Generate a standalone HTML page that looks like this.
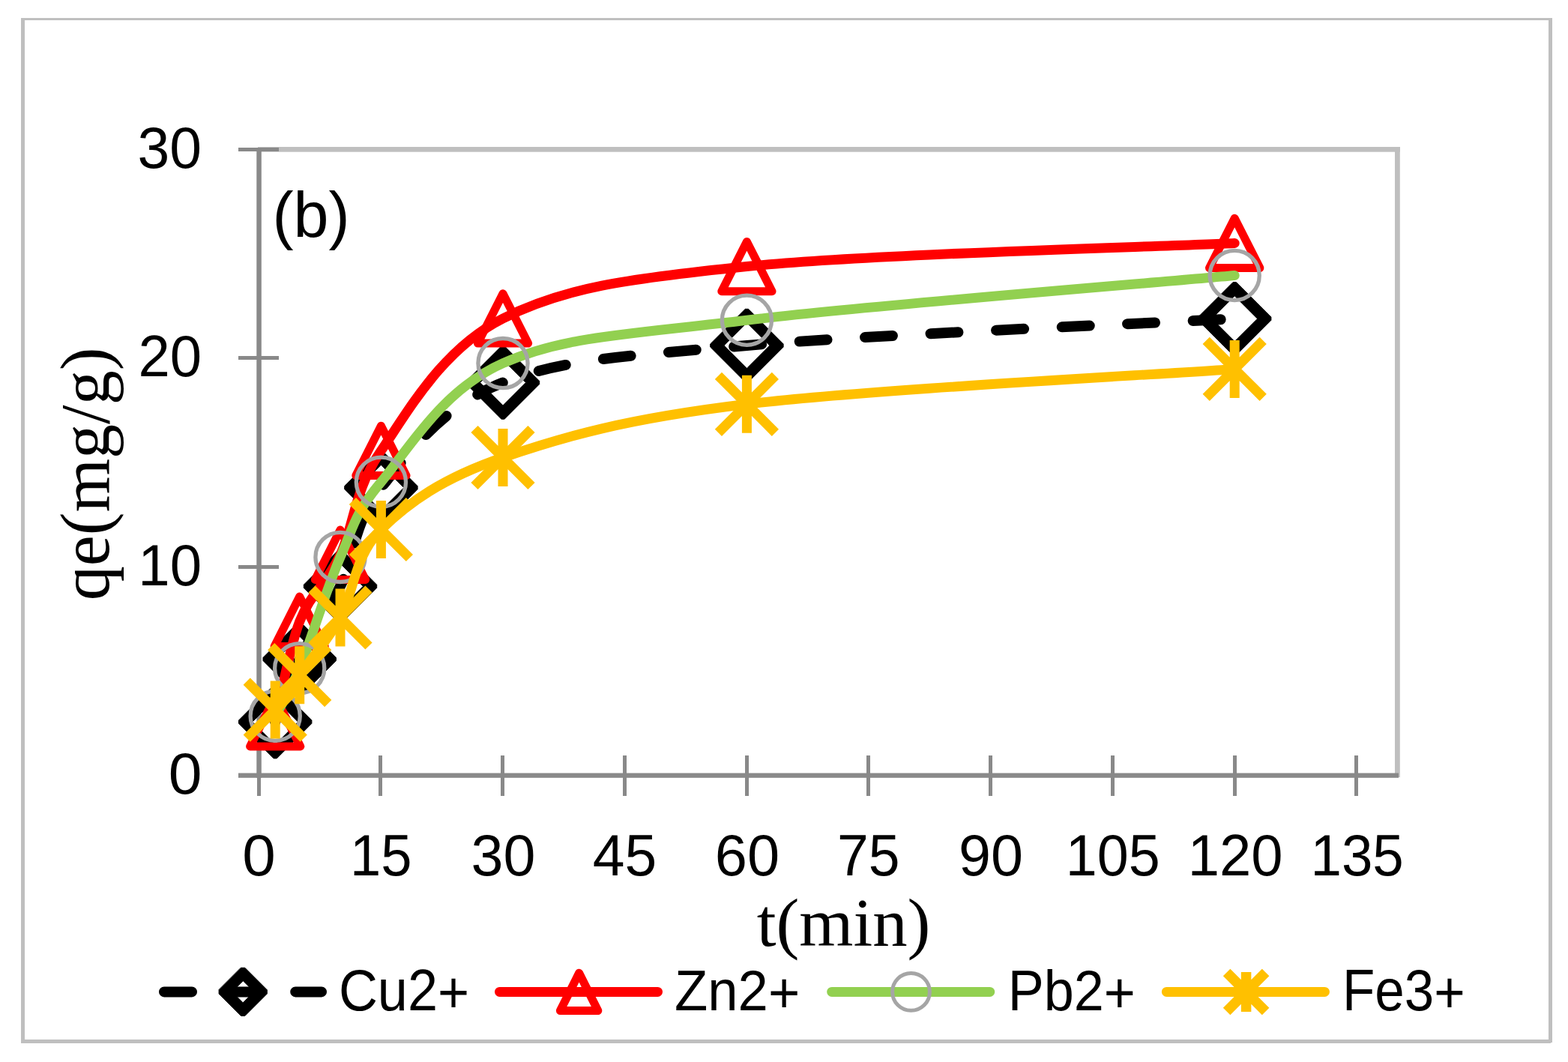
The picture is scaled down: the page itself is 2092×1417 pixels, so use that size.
<!DOCTYPE html>
<html lang="en"><head><meta charset="utf-8"><title>Chart (b)</title>
<style>html,body{margin:0;padding:0;background:#fff}svg{display:block}</style>
</head><body>
<svg width="2092" height="1417" viewBox="0 0 2092 1417">
<rect width="2092" height="1417" fill="#fff"/>
<g fill="#BFBFBF">
<rect x="28" y="24" width="2043" height="3"/>
<rect x="28" y="24" width="5" height="1368"/>
<rect x="2066" y="24" width="5" height="1367"/>
<rect x="28" y="1387" width="2041" height="5"/>
<rect x="344" y="196" width="1524" height="6.7"/>
<rect x="1861" y="196" width="6.8" height="841"/>
</g>
<g fill="#898989">
<rect x="342.3" y="197" width="6.5" height="841"/>
<rect x="318" y="1031.5" width="1548" height="6.3"/>
<rect x="318" y="754.0" width="54" height="5"/>
<rect x="318" y="475.0" width="54" height="5"/>
<rect x="318" y="197.0" width="54" height="5"/>
<rect x="343" y="1008" width="5" height="54"/>
<rect x="505" y="1008" width="5" height="54"/>
<rect x="668" y="1008" width="5" height="54"/>
<rect x="831" y="1008" width="5" height="54"/>
<rect x="994" y="1008" width="5" height="54"/>
<rect x="1156" y="1008" width="5" height="54"/>
<rect x="1319" y="1008" width="5" height="54"/>
<rect x="1482" y="1008" width="5" height="54"/>
<rect x="1645" y="1008" width="5" height="54"/>
<rect x="1807" y="1008" width="5" height="54"/>
</g>
<g fill="none" stroke-linecap="round" stroke-linejoin="round">
<path d="M367.20 963.20 C372.62 949.25 385.23 909.65 399.70 879.50 C414.17 849.35 435.88 820.43 454.00 782.30 C472.12 744.17 472.23 696.00 508.40 650.70 C544.57 605.40 589.67 542.12 671.00 510.50 C752.33 478.88 833.70 475.22 996.40 461.00 C1159.10 446.78 1538.73 431.17 1647.20 425.20" stroke="#000" stroke-width="14" stroke-dasharray="37 50.6" stroke-dashoffset="0.7"/>
<g stroke-linecap="butt">
<path d="M365.1 914.5L369.3 914.5L415.9 961.1L415.9 965.3L369.3 1011.9L365.1 1011.9L318.5 965.3L318.5 961.1Z M367.2 932.8L336.8 963.2L367.2 993.6L397.6 963.2Z" fill="#000" fill-rule="evenodd" stroke="#000" stroke-width="1" stroke-linejoin="round"/>
<path d="M397.6 830.8L401.8 830.8L448.4 877.4L448.4 881.6L401.8 928.2L397.6 928.2L351.0 881.6L351.0 877.4Z M399.7 849.1L369.3 879.5L399.7 909.9L430.1 879.5Z" fill="#000" fill-rule="evenodd" stroke="#000" stroke-width="1" stroke-linejoin="round"/>
<path d="M451.9 733.6L456.1 733.6L502.7 780.2L502.7 784.4L456.1 831.0L451.9 831.0L405.3 784.4L405.3 780.2Z M454.0 751.9L423.6 782.3L454.0 812.7L484.4 782.3Z" fill="#000" fill-rule="evenodd" stroke="#000" stroke-width="1" stroke-linejoin="round"/>
<path d="M506.3 602.0L510.5 602.0L557.1 648.6L557.1 652.8L510.5 699.4L506.3 699.4L459.7 652.8L459.7 648.6Z M508.4 620.3L478.0 650.7L508.4 681.1L538.8 650.7Z" fill="#000" fill-rule="evenodd" stroke="#000" stroke-width="1" stroke-linejoin="round"/>
<path d="M668.9 461.8L673.1 461.8L719.7 508.4L719.7 512.6L673.1 559.2L668.9 559.2L622.3 512.6L622.3 508.4Z M671.0 480.1L640.6 510.5L671.0 540.9L701.4 510.5Z" fill="#000" fill-rule="evenodd" stroke="#000" stroke-width="1" stroke-linejoin="round"/>
<path d="M994.3 412.3L998.5 412.3L1045.1 458.9L1045.1 463.1L998.5 509.7L994.3 509.7L947.7 463.1L947.7 458.9Z M996.4 430.6L966.0 461.0L996.4 491.4L1026.8 461.0Z" fill="#000" fill-rule="evenodd" stroke="#000" stroke-width="1" stroke-linejoin="round"/>
<path d="M1645.1 376.5L1649.3 376.5L1695.9 423.1L1695.9 427.3L1649.3 473.9L1645.1 473.9L1598.5 427.3L1598.5 423.1Z M1647.2 394.8L1616.8 425.2L1647.2 455.6L1677.6 425.2Z" fill="#000" fill-rule="evenodd" stroke="#000" stroke-width="1" stroke-linejoin="round"/>
</g>
<path d="M367.20 962.80 C372.62 940.55 385.23 866.40 399.70 829.30 C414.17 792.20 435.88 778.18 454.00 740.20 C472.12 702.22 472.23 653.94 508.40 601.40 C544.57 548.86 589.67 465.92 671.00 424.95 C752.33 383.98 833.70 372.30 996.40 355.55 C1159.10 338.80 1538.73 329.63 1647.20 324.45" stroke="#FF0000" stroke-width="13"/>
<g stroke-linecap="butt">
<path d="M367.2 929.6L400.8 995.9L333.6 995.9Z" fill="none" stroke="#FF0000" stroke-width="11" stroke-linejoin="round"/>
<path d="M399.7 796.1L433.3 862.4L366.1 862.4Z" fill="none" stroke="#FF0000" stroke-width="11" stroke-linejoin="round"/>
<path d="M454.0 707.1L487.6 773.4L420.4 773.4Z" fill="none" stroke="#FF0000" stroke-width="11" stroke-linejoin="round"/>
<path d="M508.4 568.2L542.0 634.5L474.8 634.5Z" fill="none" stroke="#FF0000" stroke-width="11" stroke-linejoin="round"/>
<path d="M671.0 391.8L704.6 458.1L637.4 458.1Z" fill="none" stroke="#FF0000" stroke-width="11" stroke-linejoin="round"/>
<path d="M996.4 322.4L1030.0 388.7L962.8 388.7Z" fill="none" stroke="#FF0000" stroke-width="11" stroke-linejoin="round"/>
<path d="M1647.2 291.3L1680.9 357.6L1613.5 357.6Z" fill="none" stroke="#FF0000" stroke-width="11" stroke-linejoin="round"/>
</g>
<path d="M367.20 955.20 C372.62 944.62 385.23 927.00 399.70 891.70 C414.17 856.40 435.88 784.80 454.00 743.40 C472.12 702.00 472.23 686.43 508.40 643.30 C544.57 600.17 589.67 520.62 671.00 484.60 C752.33 448.58 833.70 446.72 996.40 427.20 C1159.10 407.68 1538.73 377.45 1647.20 367.50" stroke="#92D050" stroke-width="13"/>
<g stroke-linecap="butt">
<circle cx="367.2" cy="955.2" r="33.1" fill="none" stroke="#A5A5A5" stroke-width="5.3"/>
<circle cx="399.7" cy="891.7" r="33.1" fill="none" stroke="#A5A5A5" stroke-width="5.3"/>
<circle cx="454.0" cy="743.4" r="33.1" fill="none" stroke="#A5A5A5" stroke-width="5.3"/>
<circle cx="508.4" cy="643.3" r="33.1" fill="none" stroke="#A5A5A5" stroke-width="5.3"/>
<circle cx="671.0" cy="484.6" r="33.1" fill="none" stroke="#A5A5A5" stroke-width="5.3"/>
<circle cx="996.4" cy="427.2" r="33.1" fill="none" stroke="#A5A5A5" stroke-width="5.3"/>
<circle cx="1647.2" cy="367.5" r="33.1" fill="none" stroke="#A5A5A5" stroke-width="5.3"/>
</g>
<path d="M367.20 947.10 C372.62 939.37 385.23 921.22 399.70 900.70 C414.17 880.18 435.88 856.37 454.00 824.00 C472.12 791.63 472.23 742.08 508.40 706.50 C544.57 670.92 589.67 638.37 671.00 610.50 C752.33 582.63 833.70 558.98 996.40 539.30 C1159.10 519.62 1538.73 500.22 1647.20 492.40" stroke="#FFC000" stroke-width="13"/>
<g stroke-linecap="butt">
<path d="M329.2 909.1L405.2 985.1M405.2 909.1L329.2 985.1M367.2 908.6L367.2 985.6" fill="none" stroke="#FFC000" stroke-width="13"/>
<path d="M361.7 862.7L437.7 938.7M437.7 862.7L361.7 938.7M399.7 862.2L399.7 939.2" fill="none" stroke="#FFC000" stroke-width="13"/>
<path d="M416.0 786.0L492.0 862.0M492.0 786.0L416.0 862.0M454.0 785.5L454.0 862.5" fill="none" stroke="#FFC000" stroke-width="13"/>
<path d="M470.4 668.5L546.4 744.5M546.4 668.5L470.4 744.5M508.4 668.0L508.4 745.0" fill="none" stroke="#FFC000" stroke-width="13"/>
<path d="M633.0 572.5L709.0 648.5M709.0 572.5L633.0 648.5M671.0 572.0L671.0 649.0" fill="none" stroke="#FFC000" stroke-width="13"/>
<path d="M958.4 501.3L1034.4 577.3M1034.4 501.3L958.4 577.3M996.4 500.8L996.4 577.8" fill="none" stroke="#FFC000" stroke-width="13"/>
<path d="M1609.2 454.4L1685.2 530.4M1685.2 454.4L1609.2 530.4M1647.2 453.9L1647.2 530.9" fill="none" stroke="#FFC000" stroke-width="13"/>
</g>
</g>
<g fill="none" stroke-linecap="round">
<path d="M219 1323.4 H429" stroke="#000" stroke-width="14" stroke-dasharray="37 50.6"/>
<path d="M321.6 1291.3L326.8 1291.3L356.3 1320.8L356.3 1326.0L326.8 1355.5L321.6 1355.5L292.1 1326.0L292.1 1320.8Z M324.2 1308.9L309.7 1323.4L324.2 1337.9L338.7 1323.4Z" fill="#000" fill-rule="evenodd" stroke="#000" stroke-width="1" stroke-linejoin="round"/>
<path d="M666.5 1323.4 H877.5" stroke="#FF0000" stroke-width="13"/>
<path d="M772.6 1298.3L797.8 1348.5L747.4 1348.5Z" fill="none" stroke="#FF0000" stroke-width="11" stroke-linejoin="round"/>
<path d="M1109.7 1323.4 H1320.7" stroke="#92D050" stroke-width="13"/>
<circle cx="1215.5" cy="1323.4" r="24.9" fill="none" stroke="#A5A5A5" stroke-width="5"/>
<path d="M1556.4 1323.4 H1767.4" stroke="#FFC000" stroke-width="13"/>
<g stroke-linecap="butt"><path d="M1636.6 1297.4L1688.6 1349.4M1688.6 1297.4L1636.6 1349.4M1662.6 1296.9L1662.6 1349.9" fill="none" stroke="#FFC000" stroke-width="13.5"/></g>
</g>
<g>
<text transform="matrix(0.76908 0 0 0.77746 183.52 224.02)" font-family="'Liberation Sans', sans-serif" font-size="100" fill="#000">30</text>
<text transform="matrix(0.76098 0 0 0.77746 184.40 502.42)" font-family="'Liberation Sans', sans-serif" font-size="100" fill="#000">20</text>
<text transform="matrix(0.76200 0 0 0.77746 184.28 780.92)" font-family="'Liberation Sans', sans-serif" font-size="100" fill="#000">10</text>
<text transform="matrix(0.80421 0 0 0.77746 224.78 1059.42)" font-family="'Liberation Sans', sans-serif" font-size="100" fill="#000">0</text>
<text transform="matrix(0.80000 0 0 0.77465 323.20 1168.03)" font-family="'Liberation Sans', sans-serif" font-size="100" fill="#000">0</text>
<text transform="matrix(0.74171 0 0 0.77429 466.94 1168.03)" font-family="'Liberation Sans', sans-serif" font-size="100" fill="#000">15</text>
<text transform="matrix(0.77198 0 0 0.77465 628.51 1168.03)" font-family="'Liberation Sans', sans-serif" font-size="100" fill="#000">30</text>
<text transform="matrix(0.76842 0 0 0.77429 790.78 1168.03)" font-family="'Liberation Sans', sans-serif" font-size="100" fill="#000">45</text>
<text transform="matrix(0.77561 0 0 0.77465 953.82 1168.03)" font-family="'Liberation Sans', sans-serif" font-size="100" fill="#000">60</text>
<text transform="matrix(0.75098 0 0 0.77429 1116.95 1168.03)" font-family="'Liberation Sans', sans-serif" font-size="100" fill="#000">75</text>
<text transform="matrix(0.77282 0 0 0.77465 1279.02 1168.03)" font-family="'Liberation Sans', sans-serif" font-size="100" fill="#000">90</text>
<text transform="matrix(0.75484 0 0 0.77465 1421.84 1168.03)" font-family="'Liberation Sans', sans-serif" font-size="100" fill="#000">105</text>
<text transform="matrix(0.76013 0 0 0.77465 1584.70 1168.03)" font-family="'Liberation Sans', sans-serif" font-size="100" fill="#000">120</text>
<text transform="matrix(0.74581 0 0 0.77465 1748.41 1168.03)" font-family="'Liberation Sans', sans-serif" font-size="100" fill="#000">135</text>
<text transform="matrix(0.84364 0 0 0.84599 363.44 315.53)" font-family="'Liberation Sans', sans-serif" font-size="100" fill="#000">(b)</text>
<text transform="matrix(0.71983 0 0 0.77324 451.90 1348.23)" font-family="'Liberation Sans', sans-serif" font-size="100" fill="#000">Cu2<tspan dy="3.4">+</tspan></text>
<text transform="matrix(0.72466 0 0 0.76857 900.03 1348.30)" font-family="'Liberation Sans', sans-serif" font-size="100" fill="#000">Zn2<tspan dy="3.4">+</tspan></text>
<text transform="matrix(0.71991 0 0 0.76871 1344.64 1348.23)" font-family="'Liberation Sans', sans-serif" font-size="100" fill="#000">Pb2<tspan dy="3.4">+</tspan></text>
<text transform="matrix(0.70917 0 0 0.77324 1791.03 1348.23)" font-family="'Liberation Sans', sans-serif" font-size="100" fill="#000">Fe3<tspan dy="3.4">+</tspan></text>
<text transform="matrix(0.92761 0 0 0.92000 1009.67 1261.68)" font-family="'Liberation Serif', serif" font-size="100" fill="#000">t(min)</text>
<text transform="matrix(0 -0.92106 0.93556 0 145.25 801.22)" font-family="'Liberation Serif', serif" font-size="100" fill="#000">qe(mg/g)</text>
</g>
</svg>
</body></html>
